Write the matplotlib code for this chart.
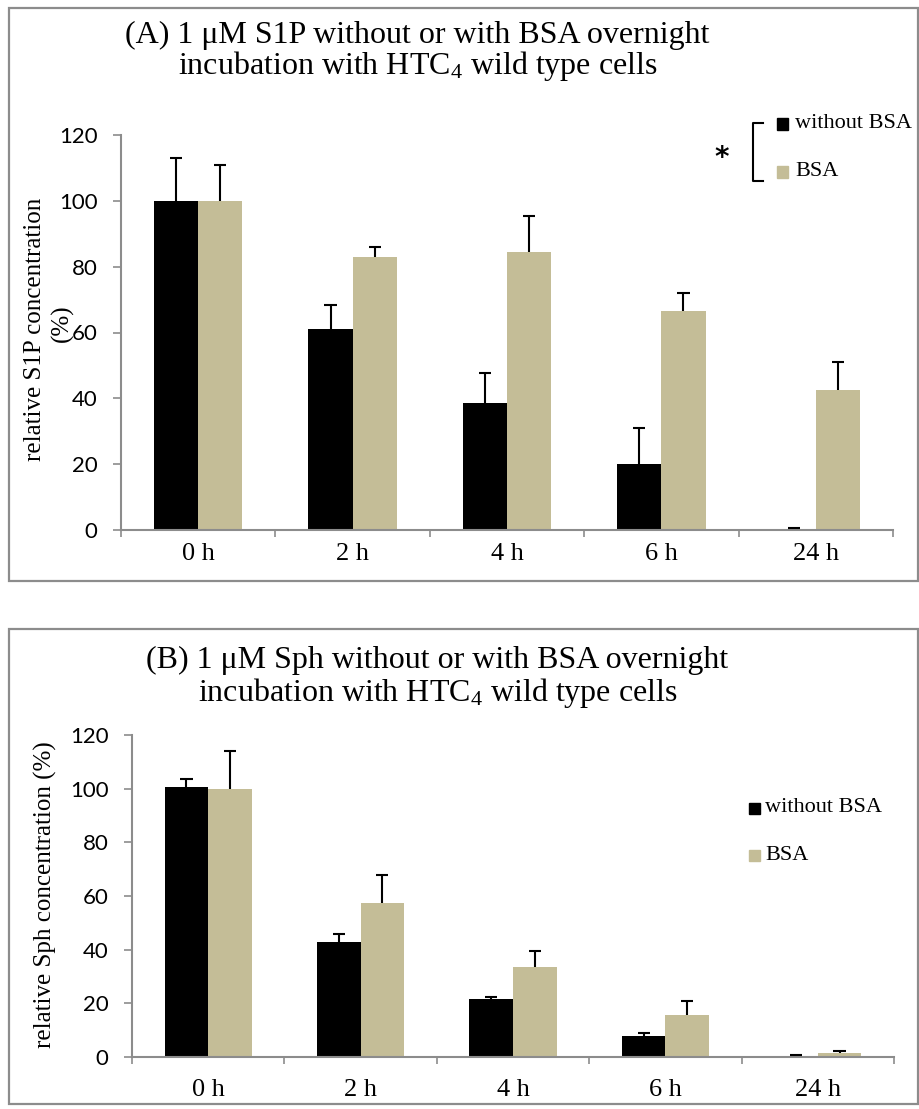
import matplotlib
matplotlib.use("Agg")
import matplotlib.pyplot as plt
from matplotlib.patches import Rectangle
from matplotlib.lines import Line2D
import numpy as np

plt.rcParams['mathtext.fontset'] = 'custom'
plt.rcParams['mathtext.rm'] = 'Liberation Serif'
plt.rcParams['mathtext.it'] = 'Liberation Serif:italic'

# data
times = ["0 h", "2 h", "4 h", "6 h", "24 h"]
series = ["without BSA", "BSA"]
colors = ["#000000", "#C4BD97"]

s1p_without = [100, 61, 38.5, 20, 0.3]
s1p_without_err = [13, 7.5, 9.2, 11, 0.3]
s1p_bsa = [100, 83, 84.5, 66.5, 42.5]
s1p_bsa_err = [11, 3, 11, 5.5, 8.5]

sph_without = [100.5, 43, 21.5, 8, 0.5]
sph_without_err = [3, 3, 1, 1.1, 0.2]
sph_bsa = [100, 57.5, 33.5, 15.7, 1.6]
sph_bsa_err = [14, 10.5, 6, 5.3, 0.8]

W, H = 920, 1109
GRAY = "#8c8c8c"
SERIF = "Liberation Serif"


def fx(px):
    return px / W


def fy(py):
    return 1 - py / H


fig = plt.figure(figsize=(W / 100, H / 100), dpi=100)


def frame(top, bottom):
    r = Rectangle((fx(9), fy(bottom)), fx(918) - fx(9), fy(top) - fy(bottom),
                  transform=fig.transFigure, fill=False, edgecolor=GRAY, lw=1.6)
    fig.add_artist(r)


def panel(rect, without, without_err, bsa, bsa_err, xpad):
    ax = fig.add_axes(rect)
    x = np.arange(len(times))
    bw = 0.286
    cap = 0.04
    vals = [without, bsa]
    errs = [without_err, bsa_err]
    for i in range(2):
        xs = x + (i - 0.5) * bw
        v = np.array(vals[i])
        top = v + np.array(errs[i])
        ax.bar(xs, v, width=bw, color=colors[i], zorder=2)
        # only the upper half of the error bar is shown
        ax.vlines(xs, v, top, color="black", lw=1.5, zorder=3)
        ax.hlines(top, xs - cap, xs + cap, color="black", lw=1.5, zorder=3)
    ax.set_xlim(-0.5, 4.5)
    ax.set_ylim(0, 120)
    ax.set_yticks(range(0, 121, 20))
    ax.set_xticks(x)
    ax.set_xticklabels(times, fontsize=19, family=SERIF)
    ax.set_xticks(np.arange(-0.5, 5, 1), minor=True)
    ax.tick_params(axis="x", which="major", length=0, pad=xpad)
    ax.tick_params(axis="x", which="minor", length=5, width=1.2, color=GRAY, direction="out")
    ax.tick_params(axis="y", length=6, width=1.2, color=GRAY, direction="out", pad=11)
    for lab in ax.get_yticklabels():
        lab.set_family("Lato")
        lab.set_fontsize(16)
    for s in ["top", "right"]:
        ax.spines[s].set_visible(False)
    for s in ["left", "bottom"]:
        ax.spines[s].set_color(GRAY)
        ax.spines[s].set_linewidth(1.5)
    ax.set_facecolor("none")
    return ax


# panel A
frame(8, 581)
fig.text(fx(417), fy(43), "(A) 1 \u03bcM S1P without or with BSA overnight",
         ha="center", va="baseline", fontsize=23, family=SERIF)
fig.text(fx(418), fy(74), "incubation with HTC$_4$ wild type cells",
         ha="center", va="baseline", fontsize=23, family=SERIF)
panel([fx(121), fy(530), fx(893) - fx(121), fy(135) - fy(530)],
      s1p_without, s1p_without_err, s1p_bsa, s1p_bsa_err, xpad=9)
fig.text(fx(35), fy(329), "relative S1P concentration", rotation=90,
         ha="center", va="center", fontsize=18, family=SERIF)
fig.text(fx(62), fy(323), "(%)", rotation=90,
         ha="center", va="center", fontsize=18, family=SERIF)

# bracket legend A
fig.add_artist(Line2D([fx(763), fx(753), fx(753), fx(763)],
                      [fy(123), fy(123), fy(181), fy(181)],
                      transform=fig.transFigure, color="black", lw=1.5))
fig.text(fx(722), fy(158), "*", ha="center", va="center", fontsize=20,
         family="DejaVu Sans", weight="bold")
for i, yy in enumerate([124, 172]):
    fig.add_artist(Rectangle((fx(777), fy(yy + 5.5)), 11 / W, 11 / H,
                             transform=fig.transFigure, color=colors[i]))
    fig.text(fx(795), fy(yy), series[i], ha="left", va="center",
             fontsize=16, family=SERIF)

# panel B
frame(629, 1104)
fig.text(fx(437), fy(668), "(B) 1 \u03bcM Sph without or with BSA overnight",
         ha="center", va="baseline", fontsize=23, family=SERIF)
fig.text(fx(438), fy(701), "incubation with HTC$_4$ wild type cells",
         ha="center", va="baseline", fontsize=23, family=SERIF)
panel([fx(132), fy(1057), fx(894) - fx(132), fy(735) - fy(1057)],
      sph_without, sph_without_err, sph_bsa, sph_bsa_err, xpad=16)
fig.text(fx(45), fy(895), "relative Sph concentration (%)", rotation=90,
         ha="center", va="center", fontsize=18, family=SERIF)

for i, yy in enumerate([808, 855]):
    fig.add_artist(Rectangle((fx(749), fy(yy + 5.5)), 11 / W, 11 / H,
                             transform=fig.transFigure, color=colors[i]))
    fig.text(fx(765), fy(yy), series[i], ha="left", va="center",
             fontsize=16, family=SERIF)

fig.savefig("out.png", dpi=100)
